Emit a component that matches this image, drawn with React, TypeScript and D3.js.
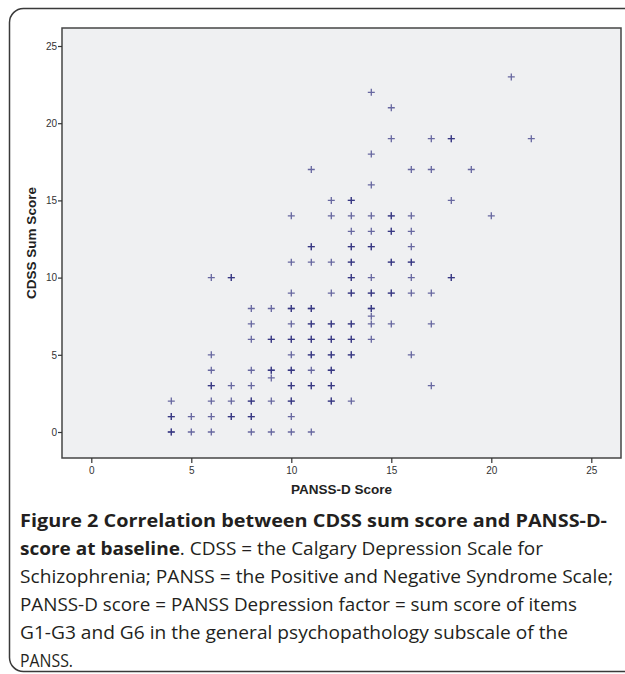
import * as d3 from 'd3';
import { useEffect, useRef } from 'react';

// CDSS sum score levels and the PANSS-D scores seen at each level (repeats = overlapping cases)
const cdssLevels = [0, 1, 2, 3, 3.5, 4, 5, 6, 7, 7.5, 8, 9, 10, 11, 12, 13, 14, 15, 16, 17, 18, 19, 21, 22, 23];
const panssAtLevel = [
  [4, 4, 5, 6, 8, 9, 10, 11],
  [4, 4, 5, 6, 7, 7, 8, 8, 10],
  [4, 6, 7, 8, 8, 9, 10, 10, 12, 12, 13],
  [6, 6, 7, 8, 10, 10, 11, 11, 12, 12, 17],
  [9],
  [6, 8, 9, 9, 10, 10, 11, 12, 12],
  [6, 10, 11, 11, 12, 12, 13, 13, 16],
  [8, 9, 9, 10, 10, 11, 11, 12, 12, 13, 13, 14],
  [8, 10, 11, 11, 12, 12, 13, 13, 14, 15, 17],
  [14],
  [8, 9, 10, 10, 11, 11, 14, 14],
  [10, 12, 13, 13, 14, 14, 15, 15, 16, 17],
  [6, 7, 7, 13, 13, 14, 16, 18, 18],
  [10, 11, 12, 13, 13, 15, 15, 16, 16],
  [11, 11, 13, 13, 14, 14, 16],
  [13, 14, 15, 15, 16],
  [10, 12, 13, 14, 15, 15, 16, 20],
  [12, 13, 13, 18],
  [14],
  [11, 16, 17, 19],
  [14],
  [15, 17, 18, 18, 22],
  [15],
  [14],
  [21],
];

const xTicks = [0, 5, 10, 15, 20, 25];
const yTicks = [0, 5, 10, 15, 20, 25];
const xTitle = 'PANSS-D Score';
const yTitle = 'CDSS Sum Score';

// caption lines as [text, bold] pieces
const captionLines = [
  [['Figure 2 Correlation between CDSS sum score and PANSS-D-', true]],
  [['score at baseline', true], ['. CDSS = the Calgary Depression Scale for', false]],
  [['Schizophrenia; PANSS = the Positive and Negative Syndrome Scale;', false]],
  [['PANSS-D score = PANSS Depression factor = sum score of items', false]],
  [['G1-G3 and G6 in the general psychopathology subscale of the', false]],
  [['PANSS.', false]],
];
// how wide each caption line runs in the figure
const captionWidths = [587, 523, 593, 557, 548, 53];

const W = 625;
const H = 674;

const App = () => {
  const svgRef = useRef(null);

  useEffect(() => {
    document.body.style.margin = '0';
    const svg = d3.select(svgRef.current);
    svg.selectAll('*').remove();

    const plot = { left: 62, right: 621, top: 28, bottom: 458 };

    // 0 -> 91.3px, 20px per unit; 0 -> 432px, 15.44px per unit
    const x = d3.scaleLinear().domain([-1.465, 26.485]).range([plot.left, plot.right]);
    const y = d3.scaleLinear().domain([-1.684, 26.166]).range([plot.bottom, plot.top]);

    // outer frame
    svg.append('rect')
      .attr('x', 9.5).attr('y', 8.5)
      .attr('width', 680).attr('height', 663)
      .attr('rx', 14)
      .attr('fill', 'none')
      .attr('stroke', '#3a3a3a')
      .attr('stroke-width', 1.5);

    svg.append('rect')
      .attr('x', plot.left).attr('y', plot.top)
      .attr('width', plot.right - plot.left)
      .attr('height', plot.bottom - plot.top)
      .attr('fill', '#eff0f2');

    const points = cdssLevels.flatMap((c, i) => panssAtLevel[i].map((p) => ({ p, c })));

    svg.append('g')
      .selectAll('path.pt')
      .data(points)
      .enter()
      .append('path')
      .attr('class', 'pt')
      .attr('d', (d) => {
        const cx = x(d.p);
        const cy = y(d.c);
        return `M${cx - 3.5},${cy}H${cx + 3.5}M${cx},${cy - 3.5}V${cy + 3.5}`;
      })
      .attr('stroke', '#1e1e75')
      .attr('stroke-opacity', 0.65)
      .attr('stroke-width', 1.3)
      .attr('fill', 'none');

    // plot border
    svg.append('rect')
      .attr('x', plot.left).attr('y', plot.top)
      .attr('width', plot.right - plot.left)
      .attr('height', plot.bottom - plot.top)
      .attr('fill', 'none')
      .attr('stroke', '#454545')
      .attr('stroke-width', 1.5);

    const yAxis = svg.append('g')
      .attr('transform', `translate(${plot.left},0)`)
      .call(d3.axisLeft(y).tickValues(yTicks).tickSize(4).tickPadding(1));
    const xAxis = svg.append('g')
      .attr('transform', `translate(0,${plot.bottom})`)
      .call(d3.axisBottom(x).tickValues(xTicks).tickSize(5).tickPadding(4));

    [xAxis, yAxis].forEach((a) => {
      a.select('.domain').remove();
      a.selectAll('line').attr('stroke', '#333').attr('stroke-width', 1.2);
      a.selectAll('text')
        .attr('fill', '#333')
        .style('font-family', 'Liberation Sans, Arial, sans-serif')
        .style('font-size', '10px');
    });

    svg.append('text')
      .attr('x', (plot.left + plot.right) / 2)
      .attr('y', 494)
      .attr('text-anchor', 'middle')
      .style('font-family', 'Liberation Sans, Arial, sans-serif')
      .style('font-size', '13.5px')
      .style('font-weight', 'bold')
      .attr('fill', '#222')
      .text(xTitle);

    svg.append('text')
      .attr('transform', `translate(36,${(plot.top + plot.bottom) / 2}) rotate(-90)`)
      .attr('text-anchor', 'middle')
      .style('font-family', 'Liberation Sans, Arial, sans-serif')
      .style('font-size', '13.5px')
      .style('font-weight', 'bold')
      .attr('fill', '#222')
      .text(yTitle);

    // caption
    const cap = svg.append('g')
      .style('font-family', 'Open Sans, sans-serif')
      .style('font-size', '18px')
      .attr('fill', '#231f20');
    captionLines.forEach((line, i) => {
      const t = cap.append('text')
        .attr('x', 20)
        .attr('y', 527 + i * 28)
        .attr('textLength', captionWidths[i])
        .attr('lengthAdjust', 'spacingAndGlyphs');
      line.forEach(([s, bold]) => {
        t.append('tspan')
          .style('font-weight', bold ? 'bold' : 'normal')
          .text(s);
      });
    });

    return () => {
      svg.selectAll('*').remove();
    };
  }, []);

  return <svg ref={svgRef} width={W} height={H} style={{ display: 'block' }} />;
};

export default App;
